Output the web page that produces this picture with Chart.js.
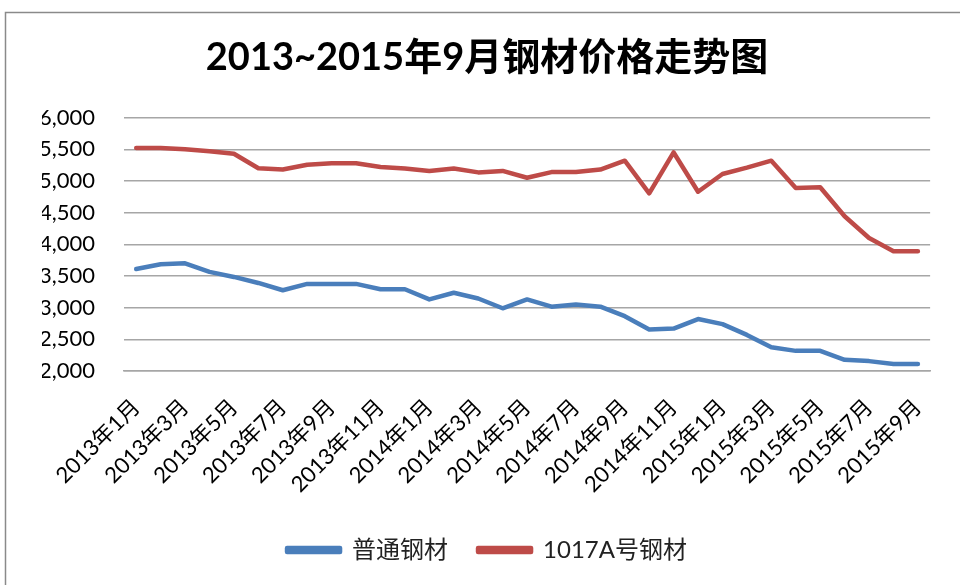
<!DOCTYPE html>
<html>
<head>
<meta charset="utf-8">
<script src="https://cdn.jsdelivr.net/npm/chart.js@4"></script>
<style>
  html, body { margin: 0; padding: 0; background: #ffffff; }
  #wrap { width: 960px; height: 585px; position: relative; }
</style>
</head>
<body>
<div id="wrap"><canvas id="c" width="960" height="585"></canvas></div>
<script>
const titleText = '2013~2015年9月钢材价格走势图';
const categories = [
  '2013年1月','2013年2月','2013年3月','2013年4月','2013年5月','2013年6月',
  '2013年7月','2013年8月','2013年9月','2013年10月','2013年11月','2013年12月',
  '2014年1月','2014年2月','2014年3月','2014年4月','2014年5月','2014年6月',
  '2014年7月','2014年8月','2014年9月','2014年10月','2014年11月','2014年12月',
  '2015年1月','2015年2月','2015年3月','2015年4月','2015年5月','2015年6月',
  '2015年7月','2015年8月','2015年9月'
];
const seriesNames = ['普通钢材', '1017A号钢材'];
const ordinarySteel = [
  3610, 3685, 3700, 3565, 3485, 3390, 3275, 3375, 3375, 3375, 3290, 3290,
  3130, 3235, 3145, 2990, 3130, 3015, 3050, 3015, 2865, 2655, 2670, 2820,
  2740, 2570, 2375, 2318, 2318, 2177, 2156, 2110, 2110
];
const steel1017A = [
  5520, 5520, 5500, 5470, 5430, 5200, 5180, 5255, 5280, 5280, 5220, 5195,
  5158, 5195, 5135, 5158, 5050, 5140, 5140, 5180, 5320, 4805, 5450, 4830,
  5110, 5210, 5320, 4890, 4900, 4443, 4100, 3890, 3890
];
const yMin = 2000, yMax = 6000, yStep = 500;

const FONT = "Lato, 'Noto Sans CJK SC', sans-serif";

const framePlugin = {
  id: 'frame',
  beforeDraw(chart) {
    const ctx = chart.ctx;
    ctx.save();
    ctx.fillStyle = '#ffffff';
    ctx.fillRect(0, 0, chart.width, chart.height);
    ctx.strokeStyle = '#8a8a8a';
    ctx.lineWidth = 1.5;
    ctx.strokeRect(5.5, 12.5, chart.width + 20, chart.height + 20);
    ctx.restore();
  }
};

new Chart(document.getElementById('c'), {
  type: 'line',
  data: {
    labels: categories,
    datasets: [
      {
        label: seriesNames[0],
        data: ordinarySteel,
        borderColor: '#4a7ebb',
        backgroundColor: '#4a7ebb',
        borderWidth: 4.5,
        pointRadius: 0,
        tension: 0,
        borderCapStyle: 'round',
        borderJoinStyle: 'round'
      },
      {
        label: seriesNames[1],
        data: steel1017A,
        borderColor: '#be4b48',
        backgroundColor: '#be4b48',
        borderWidth: 4.5,
        pointRadius: 0,
        tension: 0,
        borderCapStyle: 'round',
        borderJoinStyle: 'round'
      }
    ]
  },
  options: {
    responsive: false,
    animation: false,
    layout: { padding: { left: 42, right: 28, top: 0, bottom: 13 } },
    plugins: {
      title: {
        display: true,
        text: titleText,
        color: '#000000',
        font: { family: FONT, size: 38, weight: 'bold', lineHeight: 1.2 },
        padding: { top: 35, bottom: 37 }
      },
      legend: {
        position: 'bottom',
        labels: {
          color: '#222222',
          font: { family: FONT, size: 24 },
          boxWidth: 53,
          boxHeight: 4,
          padding: 30
        }
      },
      tooltip: { enabled: false }
    },
    scales: {
      x: {
        offset: true,
        grid: { display: false, drawTicks: false },
        border: { display: true, color: '#a6a6a6', width: 1.5 },
        ticks: {
          autoSkip: false,
          minRotation: 45,
          maxRotation: 45,
          padding: 23,
          color: '#000000',
          font: { family: FONT, size: 22 },
          callback: function (value, index) {
            return index % 2 === 0 ? categories[index] : '';
          }
        },
        afterFit(scale) { scale.height = 137; }
      },
      y: {
        min: yMin,
        max: yMax,
        grid: { color: '#a6a6a6', lineWidth: 1.5, drawTicks: false },
        border: { display: false },
        ticks: {
          stepSize: yStep,
          padding: 29,
          color: '#000000',
          font: { family: FONT, size: 22 },
          callback: function (v) { return v.toLocaleString('en-US'); }
        },
        afterFit(scale) { scale.width = 82; }
      }
    }
  },
  plugins: [framePlugin]
});
</script>
</body>
</html>
